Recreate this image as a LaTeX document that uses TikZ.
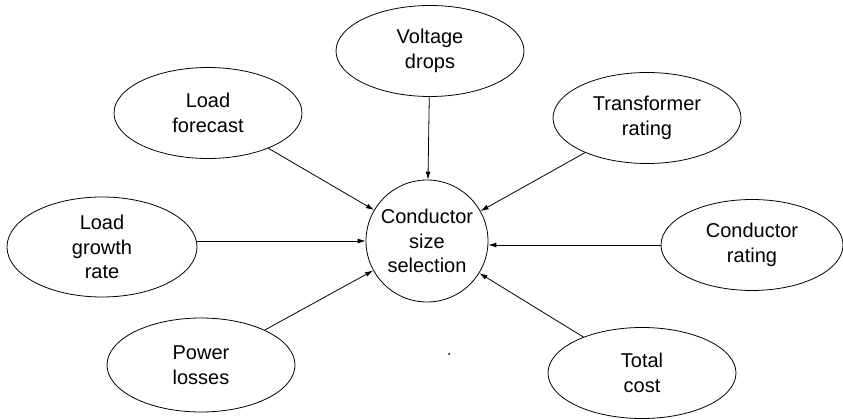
\documentclass[tikz,border=0pt]{standalone}
\usepackage{fontspec}
\setmainfont{Liberation Sans}
\usetikzlibrary{arrows.meta,shapes.geometric}

\begin{document}
\begin{tikzpicture}[x=1pt,y=-1pt,
  font=\fontsize{20}{24.5}\selectfont,
  factor/.style={draw,ellipse,line width=0.8pt,align=center,inner sep=0pt,
    minimum width=188pt,minimum height=91pt},
  sizing/.style={draw,circle,line width=0.8pt,align=center,inner sep=0pt,
    minimum size=122pt},
  feed/.style={line width=0.8pt,-{Latex[length=8pt,width=5pt]}}]
\useasboundingbox (0,0) rectangle (843,419);

\node[sizing] (sel) at (427,241) {Conductor\\size\\selection};

\node[factor] (vd) at (430,51) {Voltage\\drops};
\node[factor] (lf) at (208,113) {Load\\forecast};
\node[factor] (tr) at (647,118) {Transformer\\rating};
\node[factor,minimum height=100pt,minimum width=190pt] (lg) at (102,247) {Load\\growth\\rate};
\node[factor,minimum width=182pt] (cr) at (752,245) {Conductor\\rating};
\node[factor,minimum height=94pt] (pl) at (201,365) {Power\\losses};
\node[factor] (tc) at (642,373) {Total\\cost};
%\node (dot) at (449,354) {};
\fill (449,354) circle (1pt);

\draw[feed] (vd) -- (sel);
\draw[feed] (lf) -- (sel);
\draw[feed] (tr) -- (sel);
\draw[feed] (lg.east |- sel.west) -- (sel.west);
\draw[feed] (cr.west) -- (sel.east |- cr.west);
\draw[feed] (pl) -- (sel);
\draw[feed] (tc) -- (sel);
\end{tikzpicture}
\end{document}
